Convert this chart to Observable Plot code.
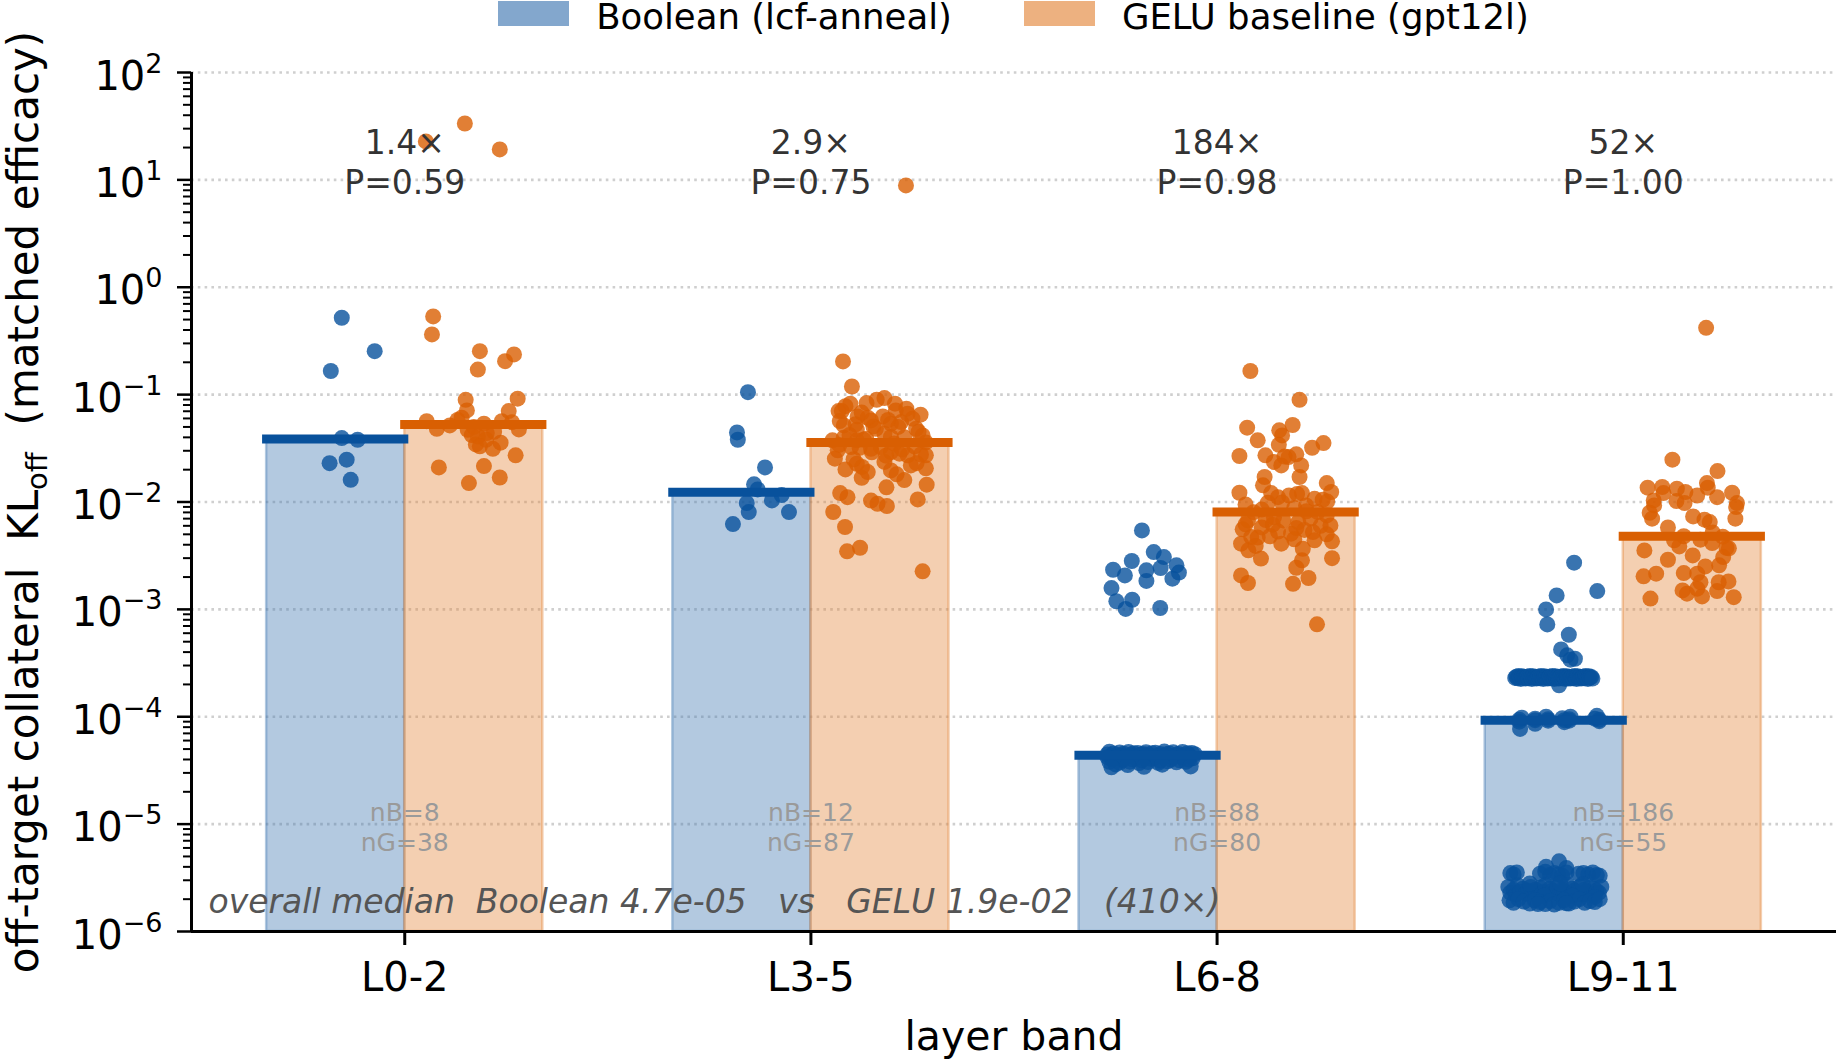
<!DOCTYPE html>
<html>
<head>
<meta charset="utf-8">
<script src="https://cdn.jsdelivr.net/npm/d3@7"></script>
<script src="https://cdn.jsdelivr.net/npm/@observablehq/plot@0.6"></script>
<style>
  body { margin: 0; background: #fff; font-family: "DejaVu Sans", sans-serif; }
  #legend { position: relative; width: 1836px; height: 30px; color: #000; }
  #legend .row { position: absolute; left: 191px; width: 1645px; top: -1px; display: flex; justify-content: center; align-items: flex-start; font-size: 35.5px; line-height: 35px; }
  #legend .item { display: flex; align-items: flex-start; margin: 0 36px; }
  #legend .sw { width: 71px; height: 25px; margin-top: 2px; margin-right: 27px; }
  #legend .lb { white-space: pre; }
  svg text { white-space: pre; }
</style>
</head>
<body>
<div id="legend"><div class="row"></div></div>
<div id="chart"></div>
<script>
// ---- categories, labels ----
const bands = ["L0-2", "L3-5", "L6-8", "L9-11"];
const ratioLabels = ["1.4×", "2.9×", "184×", "52×"];
const pLabels = ["P=0.59", "P=0.75", "P=0.98", "P=1.00"];
const legendLabels = ["Boolean (lcf-anneal)", "GELU baseline (gpt12l)"];
const overallText = "overall median  Boolean 4.7e-05   vs   GELU 1.9e-02   (410×)";
const yLabelMain = "off-target collateral  KL";
const yLabelSub = "off";
const yLabelTail = "  (matched efficacy)";
const xLabel = "layer band";
const yMajor = [1e-6, 1e-5, 1e-4, 1e-3, 1e-2, 1e-1, 1e0, 1e1, 1e2];

// ---- per-run KL_off values: [value, horizontal jitter in band units] ----
const boolL02 = [[0.52,0.015],[0.254,0.096],[0.166,-0.012],[0.0394,0.015],[0.038,0.054],[0.023,-0.015],[0.0248,0.027],[0.0161,0.037]];
const geluL02 = [[22.8,-0.118],[33.5,-0.022],[19.2,0.064],[0.535,-0.1],[0.364,-0.103],[0.254,0.015],[0.171,0.01],[0.205,0.077],[0.237,0.099],
  [0.0895,-0.02],[0.0712,-0.017],[0.0916,0.108],[0.0702,0.086],[0.0566,-0.116],[0.0481,-0.091],[0.0517,-0.059],[0.0609,-0.03],[0.047,-0.015],
  [0.0536,0.025],[0.0438,0.032],[0.0566,0.069],[0.0554,0.094],[0.0474,0.111],[0.0344,0.005],[0.0408,0.01],[0.0313,0.047],[0.0357,0.066],
  [0.0272,0.103],[0.021,-0.086],[0.0216,0.025],[0.015,-0.012],[0.0169,0.064],[0.058,-0.04],[0.05,0.0],[0.045,0.05],[0.042,-0.005],[0.038,0.03],[0.033,0.015]];

const boolL35 = [[0.1055,0.015],[0.0445,-0.012],[0.038,-0.01],[0.021,0.057],[0.0146,0.03],[0.0131,0.039],[0.00977,0.012],[0.01035,0.074],
  [0.0116,0.098],[0.00805,0.017],[0.00805,0.116],[0.00623,-0.022]];
const geluL35 = [[0.204,-0.091],[0.119,-0.069],[0.0823,-0.073],[0.0834,-0.033],[0.0896,-0.008],[0.0929,0.011],[0.0823,0.037],[0.0703,-0.102],
  [0.0703,-0.094],[0.0627,-0.055],[0.0575,-0.022],[0.0627,0.007],[0.0713,0.039],[0.0664,0.068],[0.0597,0.08],[0.0567,-0.099],[0.0517,-0.089],
  [0.0471,-0.057],[0.0506,-0.016],[0.0536,0.027],[0.0555,0.052],[0.0481,0.089],[0.0375,-0.117],[0.0397,-0.089],[0.0375,-0.057],[0.0388,-0.034],
  [0.0432,0.011],[0.0403,0.027],[0.0417,0.105],[0.0359,0.113],[0.0303,-0.104],[0.0253,-0.111],[0.0325,-0.071],[0.0313,-0.022],[0.0325,0.002],
  [0.0292,0.027],[0.0282,0.048],[0.0272,0.068],[0.0277,0.101],[0.0272,0.113],[0.0201,-0.085],[0.0227,-0.057],[0.0212,-0.044],[0.0168,-0.045],
  [0.0236,0.011],[0.0197,0.027],[0.0181,0.041],[0.0219,0.076],[0.0206,0.113],[0.0137,0.016],[0.0145,0.115],[0.0121,-0.098],[0.0111,-0.08],
  [0.0103,-0.022],[0.00963,-0.006],[0.00916,0.017],[0.01057,0.093],[0.00807,-0.115],[0.00585,-0.086],[0.00347,-0.081],[0.00375,-0.049],
  [0.00226,0.105],[8.87,0.064],
  [0.038,-0.04],[0.04,0.06],[0.042,-0.075],[0.045,0.095],[0.048,-0.01],[0.05,0.045],[0.053,-0.06],[0.058,0.02],[0.061,-0.03],[0.065,0.1],
  [0.068,-0.045],[0.074,0.065],[0.078,-0.085],
  [0.035,0.035],[0.034,-0.1],[0.033,0.085],[0.032,-0.05],[0.031,0.055],[0.029,-0.02],[0.027,0.015],[0.025,-0.065],[0.023,0.09],[0.019,-0.03],[0.016,0.06]];

const boolL68 = [[0.00544,-0.015],[0.00342,0.014],[0.00307,0.039],[0.00282,-0.04],[0.00234,-0.086],[0.00207,-0.057],[0.00231,-0.004],
  [0.00243,0.031],[0.00257,0.07],[0.0022,0.076],[0.00193,0.06],[0.00184,-0.004],[0.00158,-0.09],[0.00119,-0.078],[0.00123,-0.039],
  [0.00101,-0.055],[0.00103,0.03],
  [4.72e-5,-0.095],[4.65e-5,-0.07],[4.7e-5,-0.048],[4.6e-5,-0.025],[4.68e-5,-0.005],[4.62e-5,0.018],[4.74e-5,0.04],[4.66e-5,0.062],[4.7e-5,0.085],
  [4.6e-5,0.108],[4.55e-5,-0.085],[4.52e-5,-0.06],[4.58e-5,-0.035],[4.5e-5,-0.012],[4.56e-5,0.01],[4.5e-5,0.03],[4.54e-5,0.052],[4.5e-5,0.075],
  [4.57e-5,0.097],[4.45e-5,-0.1],[4.46e-5,-0.04],[4.44e-5,0.0],[4.47e-5,0.045],[4.43e-5,0.07],[4.48e-5,0.115],[4.42e-5,-0.018],
  [4.375e-5,-0.075],[4.375e-5,0.088],
  [4.35e-5,-0.09],[4.33e-5,-0.066],[4.3e-5,-0.042],[4.36e-5,-0.02],[4.32e-5,0.004],[4.3e-5,0.026],[4.34e-5,0.05],[4.31e-5,0.073],[4.37e-5,0.1],
  [4.2e-5,-0.1],[4.18e-5,-0.078],[4.22e-5,-0.055],[4.15e-5,-0.03],[4.2e-5,-0.008],[4.12e-5,0.015],[4.24e-5,0.038],[4.16e-5,0.06],[4.2e-5,0.083],
  [4.1e-5,0.11],[4.0e-5,-0.088],[3.95e-5,-0.062],[4.02e-5,-0.038],[3.92e-5,-0.015],[4.05e-5,0.008],[3.9e-5,0.03],[3.98e-5,0.056],[3.93e-5,0.078],
  [4.0e-5,0.1],[3.8e-5,-0.095],[3.75e-5,-0.07],[3.82e-5,-0.045],[3.7e-5,-0.022],[3.78e-5,0.0],[3.72e-5,0.025],[3.85e-5,0.048],[3.76e-5,0.07],
  [3.8e-5,0.093],[3.6e-5,-0.08],[3.55e-5,-0.05],[3.42e-5,-0.01],[3.58e-5,0.035],[3.45e-5,0.105],[3.38e-5,-0.09]];
const geluL68 = [[0.166,-0.088],[0.0895,0.033],[0.0492,-0.096],[0.0465,-0.017],[0.0417,-0.01],[0.0521,0.016],[0.0375,-0.07],[0.0341,-0.018],
  [0.032,0.064],[0.0354,0.092],[0.0268,-0.115],[0.0272,-0.051],[0.0236,-0.03],[0.0219,-0.012],[0.0262,0.006],[0.0278,0.025],[0.0219,0.037],
  [0.0265,-0.004],[0.0171,0.033],[0.0171,-0.053],[0.0143,-0.057],[0.0122,-0.115],[0.0121,-0.037],[0.0111,-0.02],[0.0115,0.007],[0.0119,0.027],
  [0.0121,0.039],[0.015,0.1],[0.0124,0.111],[0.0107,0.07],[0.0101,0.101],[0.00985,-0.045],[0.0093,0.049],[0.00806,0.078],[0.00674,-0.094],
  [0.00556,-0.107],[0.00615,-0.033],[0.00674,-0.007],[0.00572,0.025],[0.00605,0.109],[0.00472,-0.086],[0.00466,-0.07],[0.00409,-0.012],
  [0.00507,0.012],[0.00525,0.066],[0.0044,0.07],[0.0043,0.113],[0.00409,-0.111],[0.00355,-0.093],[0.00297,-0.062],[0.00367,0.041],
  [0.00286,0.039],[0.003,0.113],[0.00244,0.025],[0.00207,-0.111],[0.00176,-0.094],[0.00173,0.017],[0.00196,0.055],[0.000726,0.076],
  [0.0085,-0.06],[0.0088,0.02],[0.0095,-0.1],[0.0105,0.09],[0.0082,0.05],[0.0099,-0.01],[0.00804,-0.08],[0.0075,0.1],[0.0072,-0.03],
  [0.007,0.06],[0.0068,-0.05],[0.0065,0.03],[0.0062,-0.1],[0.006,0.085],[0.0058,-0.06],[0.0055,0.045],[0.0053,-0.02],[0.005,0.1],
  [0.0048,-0.04],[0.0045,0.02],[0.0039,-0.075]];

const boolL911 = [[0.00272,0.049],[0.00148,0.106],[0.00135,0.006],[0.001,-0.02],[0.000724,-0.017],[0.00058,0.036],[0.000424,0.017],
  [0.000373,0.032],[0.000347,0.051],[0.00034,0.04],[0.000196,0.012],
  [2.3e-4,-0.096],[2.36e-4,-0.093],[2.28e-4,-0.09],[2.4e-4,-0.088],[2.33e-4,-0.085],[2.25e-4,-0.082],[2.38e-4,-0.079],[2.31e-4,-0.077],[2.35e-4,-0.074],[2.27e-4,-0.071],
  [2.3e-4,-0.068],[2.36e-4,-0.066],[2.28e-4,-0.063],[2.4e-4,-0.06],[2.33e-4,-0.057],[2.25e-4,-0.055],[2.38e-4,-0.052],[2.31e-4,-0.049],[2.35e-4,-0.046],[2.27e-4,-0.044],
  [2.3e-4,-0.041],[2.36e-4,-0.038],[2.28e-4,-0.035],[2.4e-4,-0.033],[2.33e-4,-0.03],[2.25e-4,-0.027],[2.38e-4,-0.024],[2.31e-4,-0.022],[2.35e-4,-0.019],[2.27e-4,-0.016],
  [2.3e-4,-0.013],[2.36e-4,-0.011],[2.28e-4,-0.008],[2.4e-4,-0.005],[2.33e-4,-0.002],[2.25e-4,0.0],[2.38e-4,0.003],[2.31e-4,0.006],[2.35e-4,0.009],[2.27e-4,0.011],
  [2.3e-4,0.014],[2.36e-4,0.017],[2.28e-4,0.02],[2.4e-4,0.022],[2.33e-4,0.025],[2.25e-4,0.028],[2.38e-4,0.031],[2.31e-4,0.033],[2.35e-4,0.036],[2.27e-4,0.039],
  [2.3e-4,0.042],[2.36e-4,0.044],[2.28e-4,0.047],[2.4e-4,0.05],[2.33e-4,0.053],[2.25e-4,0.055],[2.38e-4,0.058],[2.31e-4,0.061],[2.35e-4,0.064],[2.27e-4,0.066],
  [2.3e-4,0.069],[2.36e-4,0.072],[2.28e-4,0.075],[2.4e-4,0.077],[2.33e-4,0.08],[2.25e-4,0.083],[2.38e-4,0.086],[2.31e-4,0.088],[2.35e-4,0.091],[2.27e-4,0.094],
  [7.7e-5,-0.084],[8.6e-5,-0.047],[8.9e-5,0.025],[9.0e-5,-0.086],[9.1e-5,0.111],[9.2e-5,-0.015],[9.2e-5,0.037],[9.3e-5,-0.047],[9.3e-5,0.025],
  [9.4e-5,-0.086],[9.4e-5,0.111],[9.5e-5,-0.015],[9.5e-5,0.037],[9.6e-5,-0.047],[9.6e-5,0.1],[9.7e-5,0.02],[9.8e-5,-0.08],[1.0e-4,-0.02],
  [1.0e-4,0.04],[1.02e-4,0.105],
  [3.5e-6,-0.108],[3.4e-6,-0.1],[3.55e-6,-0.092],[3.45e-6,-0.035],[3.6e-6,-0.022],[3.35e-6,-0.01],[3.5e-6,0.0],[3.4e-6,0.01],[3.3e-6,0.02],
  [3.55e-6,0.03],[3.45e-6,0.06],[3.5e-6,0.072],[3.4e-6,0.084],[3.55e-6,0.095],[3.35e-6,0.105],[3.3e-6,0.112],
  [4.5e-6,0.012],[4.0e-6,-0.02],[3.9e-6,0.03],
  [2.6e-6,-0.113],[2.3e-6,-0.108],[2.45e-6,-0.1],[2.2e-6,-0.095],[2.7e-6,-0.09],[2.35e-6,-0.083],[2.5e-6,-0.077],[2.25e-6,-0.07],[2.4e-6,-0.064],
  [2.6e-6,-0.058],[2.3e-6,-0.052],[2.45e-6,-0.046],[2.2e-6,-0.04],[2.55e-6,-0.034],[2.35e-6,-0.028],[2.7e-6,-0.022],[2.25e-6,-0.016],[2.5e-6,-0.01],
  [2.4e-6,-0.004],[2.3e-6,0.002],[2.6e-6,0.008],[2.2e-6,0.014],[2.45e-6,0.02],[2.35e-6,0.026],[2.75e-6,0.032],[2.25e-6,0.038],[2.5e-6,0.044],
  [2.4e-6,0.05],[2.3e-6,0.056],[2.6e-6,0.062],[2.2e-6,0.068],[2.45e-6,0.074],[2.35e-6,0.08],[2.55e-6,0.086],[2.25e-6,0.092],[2.5e-6,0.098],
  [2.4e-6,0.104],[2.3e-6,0.11],[2.6e-6,0.116],[2.8e-6,-0.06],[2.8e-6,0.015],[2.75e-6,0.07],[2.15e-6,-0.025],[2.15e-6,0.045],[2.1e-6,0.1],
  [1.95e-6,-0.11],[1.85e-6,-0.1],[2.0e-6,-0.088],[1.9e-6,-0.075],[1.82e-6,-0.06],[1.95e-6,-0.048],[1.88e-6,-0.035],[1.8e-6,-0.022],[1.92e-6,-0.01],
  [1.78e-6,0.0],[1.85e-6,0.012],[1.95e-6,0.024],[1.82e-6,0.036],[1.9e-6,0.05],[2.0e-6,0.062],[1.85e-6,0.075],[1.92e-6,0.088],[1.88e-6,0.1],
  [2.0e-6,0.112],[1.8e-6,-0.04],[1.83e-6,0.03]];
const geluL911 = [[0.419,0.034],[0.0248,-0.049],[0.0194,0.062],[0.0136,-0.11],[0.0138,-0.074],[0.0121,-0.071],[0.0133,-0.038],[0.0124,-0.017],
  [0.015,0.036],[0.0136,0.038],[0.0115,0.012],[0.0122,0.098],[0.0111,0.061],[0.01035,-0.095],[0.00929,-0.094],[0.0102,-0.039],[0.00978,-0.019],
  [0.00978,0.11],[0.00897,0.108],[0.00794,-0.105],[0.00699,-0.099],[0.00734,0.002],[0.00684,0.03],[0.0065,0.043],[0.00699,0.106],[0.0048,-0.021],
  [0.00446,0.02],[0.00415,0.049],[0.00354,-0.118],[0.00386,-0.032],[0.00318,0.001],[0.00375,0.084],[0.00307,0.076],[0.0029,-0.06],[0.00257,0.066],
  [0.00251,0.032],[0.00203,-0.12],[0.00215,-0.089],[0.00218,-0.021],[0.00215,0.012],[0.00179,0.02],[0.00179,0.065],[0.00182,0.089],[0.0015,-0.024],
  [0.0014,-0.013],[0.00132,0.024],[0.00148,0.061],[0.0013,0.102],[0.00126,-0.103],[0.00156,0.012],
  [0.0052,0.05],[0.0058,-0.06],[0.00475,0.075],[0.0044,-0.045],[0.0037,0.09]];

const boolPts = [boolL02, boolL35, boolL68, boolL911];
const geluPts = [geluL02, geluL35, geluL68, geluL911];

// ---- colours ----
const boolDark = "#08519c", geluDark = "#d95f02";
const boolBase = "#4178b2", geluBase = "#e3873c";
const legendColors = ["#83a7cd", "#edb180"];

// ---- layout constants (band units) ----
const BW = 0.34;      // bar width
const MH = 0.18;      // half-length of median line
const xDomain = [-0.525, 3.525];
const yDomain = [1e-6, 1e2];

// ---- derived tables ----
const barsB = bands.map((b, i) => ({i, x1: i - BW, x2: i, c: i - BW / 2, med: d3.median(boolPts[i], d => d[0])}));
const barsG = bands.map((b, i) => ({i, x1: i, x2: i + BW, c: i + BW / 2, med: d3.median(geluPts[i], d => d[0])}));
const dotsB = boolPts.flatMap((pts, i) => pts.map(([v, dx]) => ({x: i - BW / 2 + dx, v})));
const dotsG = geluPts.flatMap((pts, i) => pts.map(([v, dx]) => ({x: i + BW / 2 + dx, v})));
const yMinor = d3.scaleLog().domain(yDomain).ticks().filter(t => !yMajor.some(m => Math.abs(m - t) / m < 1e-9));

// ---- legend ----
const row = document.querySelector("#legend .row");
legendLabels.forEach((lab, k) => {
  const item = document.createElement("div");
  item.className = "item";
  const sw = document.createElement("div");
  sw.className = "sw";
  sw.style.background = legendColors[k];
  const lb = document.createElement("div");
  lb.className = "lb";
  lb.textContent = lab;
  item.append(sw, lb);
  row.append(item);
});

// ---- chart ----
const svg = Plot.plot({
  width: 1836,
  height: 1030,
  marginTop: 42,
  marginBottom: 129,
  marginLeft: 191,
  marginRight: 0,
  x: {domain: xDomain},
  y: {type: "log", domain: yDomain},
  style: {fontFamily: "DejaVu Sans", fontSize: "40px", color: "#000", background: "#fff", overflow: "visible"},
  marks: [
    Plot.ruleY(yMajor, {stroke: "#cfcfcf", strokeWidth: 2.6, strokeDasharray: "2.6,4.2"}),
    Plot.rect(barsB, {x1: "x1", x2: "x2", y1: yDomain[0], y2: "med", fill: boolBase, fillOpacity: 0.4, stroke: boolBase, strokeOpacity: 0.4, strokeWidth: 2.5}),
    Plot.rect(barsG, {x1: "x1", x2: "x2", y1: yDomain[0], y2: "med", fill: geluBase, fillOpacity: 0.4, stroke: geluBase, strokeOpacity: 0.4, strokeWidth: 2.5}),
    Plot.dot(dotsB, {x: "x", y: "v", r: 8, fill: boolDark, fillOpacity: 0.8}),
    Plot.dot(dotsG, {x: "x", y: "v", r: 8, fill: geluDark, fillOpacity: 0.8}),
    Plot.ruleY(barsB, {y: "med", x1: d => d.c - MH, x2: d => d.c + MH, stroke: boolDark, strokeWidth: 9}),
    Plot.ruleY(barsG, {y: "med", x1: d => d.c - MH, x2: d => d.c + MH, stroke: geluDark, strokeWidth: 9}),
    Plot.ruleX([xDomain[0]], {stroke: "#000", strokeWidth: 3}),
    Plot.ruleY([yDomain[0]], {stroke: "#000", strokeWidth: 3}),
    Plot.axisY({ticks: yMinor, tickSize: 8, strokeWidth: 2, tickFormat: () => "", label: null}),
    Plot.axisY({ticks: yMajor, tickSize: 14, tickPadding: 15, strokeWidth: 2.5, fontSize: 40,
      tickFormat: d => "10^" + Math.round(Math.log10(d)), label: null}),
    Plot.axisX({ticks: [0, 1, 2, 3], tickSize: 14, tickPadding: 17, strokeWidth: 3, fontSize: 40,
      tickFormat: i => bands[i], label: null}),
    Plot.text(bands, {x: (d, i) => i, frameAnchor: "top", dy: 89, lineAnchor: "middle",
      text: (d, i) => ratioLabels[i] + "\n" + pLabels[i], fontSize: 33, fill: "#333", lineHeight: 1.2}),
    Plot.text(bands, {x: (d, i) => i, frameAnchor: "bottom", dy: -105, lineAnchor: "middle",
      text: (d, i) => "nB=" + boolPts[i].length + "\nnG=" + geluPts[i].length,
      fontSize: 25, fill: "#9a9a9a", lineHeight: 1.2}),
    Plot.text([overallText], {frameAnchor: "bottom-left", dx: 17, dy: -29, textAnchor: "start", lineAnchor: "middle",
      fontSize: 33, fontStyle: "italic", fill: "#555"}),
    Plot.text([xLabel], {frameAnchor: "bottom", dy: 118, lineAnchor: "bottom", fontSize: 41}),
    Plot.text([yLabelMain], {frameAnchor: "left", dx: -167, rotate: -90, lineAnchor: "middle", fontSize: 42})
  ]
});

// y tick labels as 10 with a raised exponent
d3.select(svg).selectAll("text").filter(function () { return /^10\^/.test(this.textContent); }).each(function () {
  const exp = this.textContent.split("^")[1].replace("-", "\u2212");
  this.textContent = "10";
  this.setAttribute("y", "17");
  const sup = document.createElementNS("http://www.w3.org/2000/svg", "tspan");
  sup.setAttribute("dy", "-17");
  sup.setAttribute("font-size", "27");
  sup.textContent = exp;
  this.appendChild(sup);
});

// y axis title with the subscripted "off"
const yTitle = d3.select(svg).selectAll("text").filter(function () { return this.textContent === yLabelMain; });
yTitle.each(function () {
  const t = d3.select(this);
  t.append("tspan").attr("dy", 9).attr("font-size", 29).text(yLabelSub);
  t.append("tspan").attr("dy", -9).attr("font-size", 42).text(yLabelTail);
});

document.getElementById("chart").append(svg);

// centre the composed title along its own length
yTitle.each(function () {
  const len = this.getComputedTextLength();
  this.setAttribute("text-anchor", "start");
  this.setAttribute("x", (-len / 2).toFixed(1));
});
</script>
</body>
</html>
